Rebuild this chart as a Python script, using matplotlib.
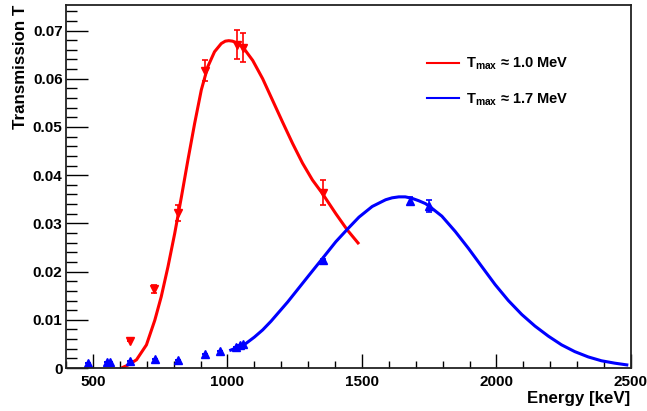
import numpy as np
import matplotlib
matplotlib.use('Agg')
import matplotlib.pyplot as plt
from matplotlib.ticker import MultipleLocator, FixedLocator

plt.rcParams['font.family'] = ['Liberation Sans', 'DejaVu Sans']
plt.rcParams['font.weight'] = 'bold'
plt.rcParams['mathtext.fontset'] = 'custom'
plt.rcParams['mathtext.bf'] = 'Liberation Sans:bold'
plt.rcParams['mathtext.rm'] = 'Liberation Sans:bold'
plt.rcParams['mathtext.default'] = 'bf'

# measured points, T_max ~ 1.0 MeV (red)
red_E = [637, 728, 815, 916, 1035, 1059, 1355]
red_T = [0.0056, 0.0164, 0.0322, 0.0617, 0.0671, 0.0664, 0.0364]
red_err = [0.0, 0.0008, 0.0017, 0.0022, 0.0030, 0.0030, 0.0025]

# fitted curve (red)
red_fit_E = [606, 630, 662, 699, 730, 754, 779, 804, 829, 853, 878, 903, 927,
             952, 977, 992, 1005, 1019, 1032, 1057, 1094, 1131, 1168, 1205,
             1242, 1279, 1316, 1353, 1403, 1446, 1489]
red_fit_T = [0.0, 0.0006, 0.0017, 0.0048, 0.0099, 0.0148, 0.0210, 0.0279,
             0.0355, 0.0431, 0.0507, 0.0577, 0.0625, 0.0656, 0.0673, 0.0678,
             0.0679, 0.0678, 0.0675, 0.0666, 0.0638, 0.0600, 0.0555, 0.0510,
             0.0466, 0.0425, 0.0390, 0.0362, 0.0320, 0.0286, 0.0257]

# measured points, T_max ~ 1.7 MeV (blue)
blue_E = [480, 553, 565, 637, 730, 816, 915, 974, 1032, 1045, 1058, 1357, 1678, 1751]
blue_T = [0.0010, 0.0013, 0.0013, 0.0015, 0.0019, 0.0017, 0.0030, 0.0035,
          0.0044, 0.0047, 0.0050, 0.0224, 0.0346, 0.0336]
blue_err = [0, 0, 0, 0, 0, 0, 0, 0, 0, 0, 0, 0.0003, 0.0008, 0.0012]

# fitted curve (blue)
blue_fit_E = [1007, 1040, 1069, 1100, 1131, 1162, 1193, 1224, 1254, 1304, 1353,
              1403, 1446, 1489, 1538, 1588, 1612, 1637, 1661, 1686, 1711, 1736,
              1754, 1797, 1847, 1896, 1946, 1995, 2044, 2094, 2143, 2193, 2242,
              2291, 2341, 2390, 2440, 2490]
blue_fit_T = [0.0036, 0.0043, 0.0051, 0.0064, 0.0079, 0.0097, 0.0117, 0.0137,
              0.0158, 0.0193, 0.0227, 0.0262, 0.0288, 0.0313, 0.0335, 0.0349,
              0.0353, 0.0355, 0.0355, 0.0352, 0.0347, 0.0341, 0.0334, 0.0315,
              0.0283, 0.0248, 0.0210, 0.0173, 0.0140, 0.0111, 0.0087, 0.0066,
              0.0048, 0.0034, 0.0023, 0.0015, 0.0010, 0.0006]

x_ticks = [500, 1000, 1500, 2000, 2500]
x_tick_labels = ['500', '1000', '1500', '2000', '2500']
y_ticks = [0, 0.01, 0.02, 0.03, 0.04, 0.05, 0.06, 0.07]
y_tick_labels = ['0', '0.01', '0.02', '0.03', '0.04', '0.05', '0.06', '0.07']
legend_labels = [r'$T_{max}$ ≈ 1.0 MeV', r'$T_{max}$ ≈ 1.7 MeV']

fig = plt.figure(figsize=(6.47, 4.11), dpi=100)
ax = fig.add_axes([66 / 647, 1 - 368 / 411, 565 / 647, 363 / 411])

ax.plot(red_fit_E, red_fit_T, color='#ff0000', lw=2.2, solid_capstyle='butt',
        solid_joinstyle='round')
ax.plot(blue_fit_E, blue_fit_T, color='#0000ff', lw=2.2, solid_capstyle='butt',
        solid_joinstyle='round')

ax.errorbar(red_E, red_T, yerr=red_err, fmt='v', color='#ff0000', ms=5.5,
            elinewidth=1.2, capsize=2, capthick=1.2)
ax.errorbar(blue_E, blue_T, yerr=blue_err, fmt='^', color='#0000ff', ms=5.5,
            elinewidth=1.2, capsize=2, capthick=1.2)

ax.set_xlim(400, 2500)
ax.set_ylim(0, 0.0753)

ax.xaxis.set_major_locator(FixedLocator(x_ticks))
ax.set_xticklabels(x_tick_labels)
ax.xaxis.set_minor_locator(MultipleLocator(100))
ax.yaxis.set_major_locator(FixedLocator(y_ticks))
ax.set_yticklabels(y_tick_labels)
ax.yaxis.set_minor_locator(MultipleLocator(0.002))

ax.tick_params(axis='x', which='major', direction='in', length=10, width=1,
               pad=5, labelsize=11)
ax.tick_params(axis='x', which='minor', direction='in', length=5, width=1)
ax.tick_params(axis='y', which='major', direction='in', length=16, width=1,
               pad=2.5, labelsize=11)
ax.tick_params(axis='y', which='minor', direction='in', length=8, width=1)
for lab in ax.get_xticklabels() + ax.get_yticklabels():
    lab.set_fontweight('bold')

for sp in ax.spines.values():
    sp.set_linewidth(1.3)
    sp.set_color('#222222')

fig.text(21 / 647, 1 - 5 / 411, 'Transmission T', rotation=90, ha='center',
         va='top', fontsize=12.2, fontweight='bold')
fig.text(630 / 647, 1 - 398 / 411, 'Energy [keV]', ha='right', va='center',
         fontsize=12.2, fontweight='bold')

h_red, = ax.plot([], [], color='#ff0000', lw=1.5)
h_blue, = ax.plot([], [], color='#0000ff', lw=1.5)
ax.legend([h_red, h_blue], legend_labels, loc='upper left',
          bbox_to_anchor=(427 / 647, 1 - 56 / 411), bbox_transform=fig.transFigure,
          frameon=False, fontsize=10.5, handlelength=2.2, handletextpad=0.45,
          labelspacing=1.3, borderpad=0, borderaxespad=0)

fig.savefig('out.png', dpi=100)
